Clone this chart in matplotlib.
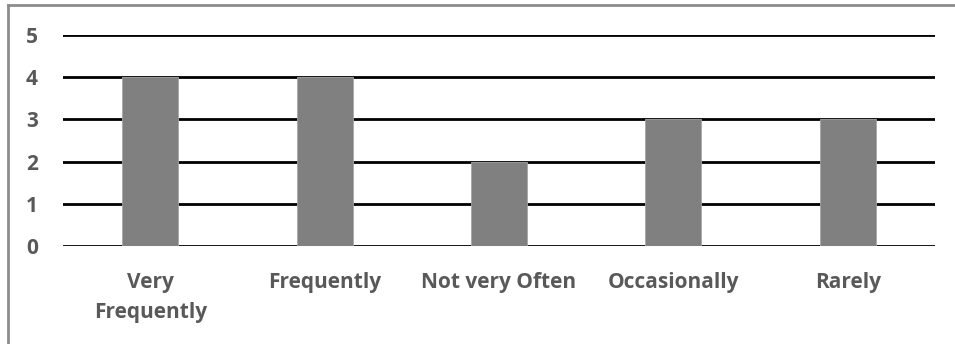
import matplotlib
matplotlib.use("Agg")
import matplotlib.pyplot as plt
from matplotlib.lines import Line2D

categories = ["Very\nFrequently", "Frequently", "Not very Often", "Occasionally", "Rarely"]
values = [4, 4, 2, 3, 3]
y_ticks = [0, 1, 2, 3, 4, 5]

plt.rcParams["font.family"] = ["Open Sans", "DejaVu Sans"]
text_color = "#595959"

fig = plt.figure(figsize=(9.55, 3.44), dpi=100)
ax = fig.add_axes([63 / 955, 1 - 246 / 344, 872 / 955, (246 - 35) / 344])

x = range(len(categories))
ax.bar(x, values, width=0.32, color="#808080", edgecolor="#a6a6a6", linewidth=0.6, zorder=3)

for t in y_ticks:
    ax.axhline(t, color="black", linewidth=2.0, zorder=2)

ax.set_xlim(-0.5, len(categories) - 0.5)
ax.set_ylim(0, 5)
ax.set_yticks(y_ticks)
ax.set_xticks(list(x))
ax.set_xticklabels(categories, fontsize=15, fontweight="bold", color=text_color, linespacing=1.55)
ax.set_yticklabels([str(t) for t in y_ticks], fontsize=15, fontweight="bold", color=text_color)
ax.tick_params(axis="both", length=0)
ax.tick_params(axis="y", pad=18)
ax.tick_params(axis="x", pad=19)
for s in ax.spines.values():
    s.set_visible(False)

# outer frame (left and top edges)
frame_color = "#8c8c8c"
fig.add_artist(Line2D([8 / 955, 8 / 955], [0, 1 - 5 / 344], transform=fig.transFigure,
                      color=frame_color, linewidth=2))
fig.add_artist(Line2D([8 / 955, 1], [1 - 5 / 344, 1 - 5 / 344], transform=fig.transFigure,
                      color=frame_color, linewidth=2))

fig.savefig("out.png", dpi=100, facecolor="white")
